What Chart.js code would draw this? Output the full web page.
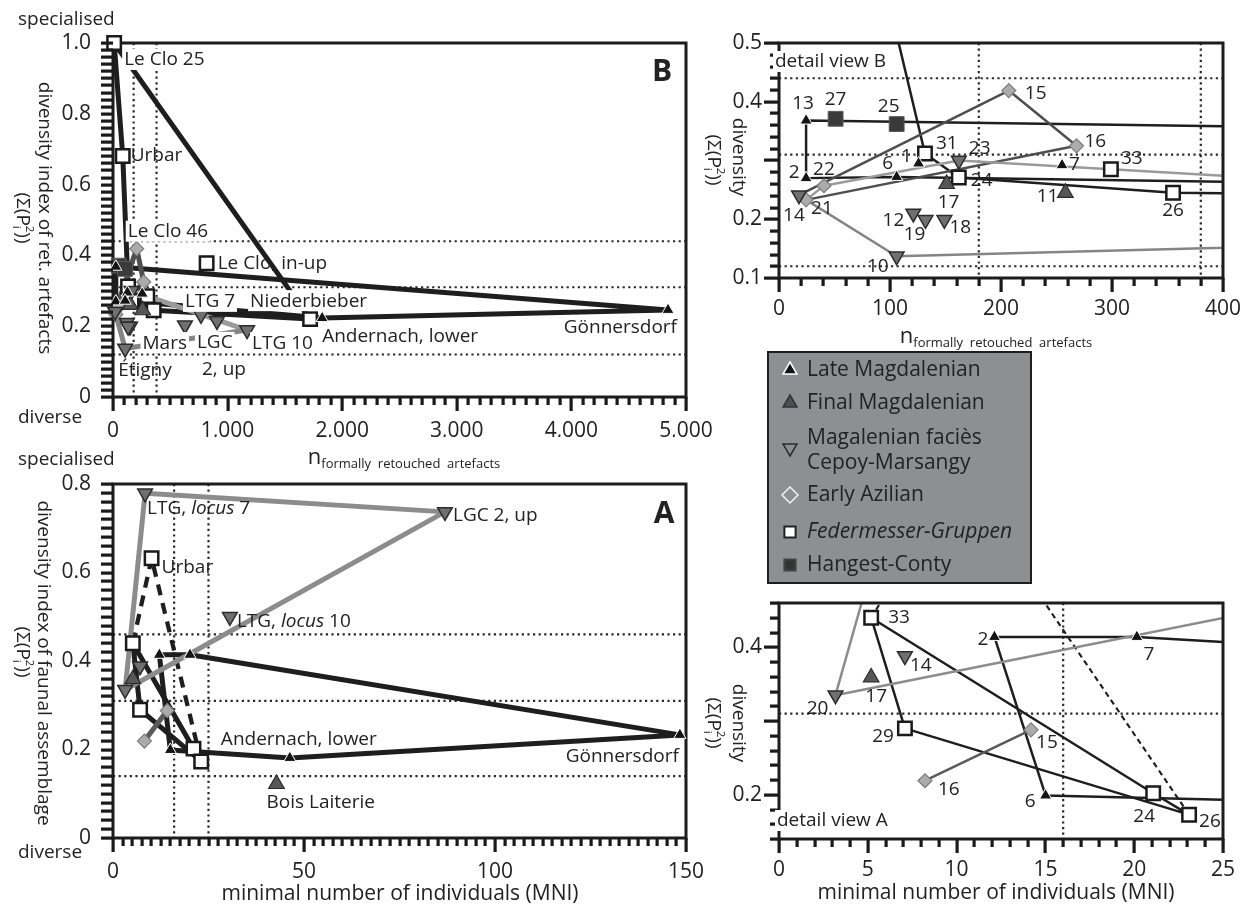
<!DOCTYPE html>
<html>
<head>
<meta charset="utf-8">
<script src="https://cdn.jsdelivr.net/npm/chart.js@4.4.1/dist/chart.umd.min.js"></script>
<style>
  html, body { margin: 0; padding: 0; background: #fff; }
  #wrap { position: relative; width: 1252px; height: 906px; }
  #wrap canvas { position: absolute; left: 0; top: 0; }
</style>
</head>
<body>
<div id="wrap">
  <canvas id="cB" width="1252" height="906"></canvas>
  <canvas id="cBd" width="1252" height="906"></canvas>
  <canvas id="cA" width="1252" height="906"></canvas>
  <canvas id="cAd" width="1252" height="906"></canvas>
</div>
<script>
// ---------- B: n formally retouched artefacts vs. diversity ----------
// late: 1, 2, 6, 7, 13, Andernach lower, Gönnersdorf
const bLate    = [[125.7,0.295],[24.4,0.27],[106,0.272],[255,0.292],[24.4,0.368],[1825,0.223],[4843,0.246]];
// final: 17, 11
const bFinal   = [[151,0.26],[258,0.245]];
// cepoy: 10 (Étigny), 12, 14, 18, 19, 23, LTG 7, LGC 2 up, Mars, LTG 10
const bCepoy   = [[106,0.137],[121,0.21],[18,0.241],[149,0.199],[132,0.199],[162,0.30],[768,0.232],[907,0.215],[628,0.203],[1170,0.189]];
// early azilian: 15 (Le Clo 46), 16, 21, 22
const bAzilian = [[207,0.419],[268,0.325],[24.4,0.233],[40.5,0.257]];
// federmesser: Le Clo 25, Urbar, Le Clo in-up, Niederbieber, 31, 24, 26, 33
const bFeder   = [[10,1.0],[85,0.681],[817,0.378],[1720,0.22],[131.5,0.312],[162,0.271],[355,0.245],[299,0.285]];
// hangest-conty: 27, 25
const bHangest = [[51,0.371],[106,0.362]];

const bLinkLate  = [bLate[1], bLate[4], bLate[6], bLate[5], bLate[2], bLate[1]];
const bLinkFeder = [bFeder[0], bFeder[1], bFeder[4], bFeder[5], bFeder[6], bFeder[3], bFeder[0]];
const bLinkAzil  = [bCepoy[2], bAzilian[0], bAzilian[1], bAzilian[2]];
const bLinkLight = [bAzilian[2], bAzilian[3], bCepoy[5], bFeder[7], bCepoy[9]];
const bLinkCepoy = [bAzilian[2], bCepoy[0], bCepoy[9]];

// ---------- A: MNI vs. diversity of faunal assemblage ----------
// late: 2, 7, 6, Andernach lower, Gönnersdorf
const aLate    = [[12.13,0.414],[20.15,0.414],[15.01,0.199],[46.3,0.181],[148.4,0.233]];
// final: 17, Bois Laiterie
const aFinal   = [[5.19,0.359],[42.8,0.122]];
// cepoy: 14, 20, LTG locus 7, LTG locus 10, LGC 2 up
const aCepoy   = [[7.09,0.388],[3.18,0.335],[8.4,0.779],[30.6,0.50],[86.9,0.737]];
// early azilian: 15, 16
const aAzilian = [[14.19,0.288],[8.22,0.219]];
// federmesser: 33, 29, 24, 26, Urbar
const aFeder   = [[5.19,0.44],[7.09,0.29],[21.07,0.202],[23.09,0.173],[10.1,0.632]];

const aLinkLate  = [aLate[0], aLate[1], aLate[4], aLate[3], aLate[2], aLate[0]];
const aLinkFeder = [aFeder[0], aFeder[2], aFeder[3], aFeder[1], aFeder[0]];
const aLinkUrbar = [aFeder[0], aFeder[4], aFeder[3]];
const aLinkCepoy = [aCepoy[2], aCepoy[1], aCepoy[4], aCepoy[2]];
const aLinkAzil  = [aAzilian[1], aAzilian[0]];

// dotted reference values
const bRefY = [0.44, 0.31, 0.12], bRefX = [180, 380];
const aRefY = [0.46, 0.31, 0.14], aRefX = [16, 25];

// site names: [point, text, dx, dy, align, white background]
const bNames = [
  [bFeder[0], 'Le Clo 25', 10, 17, 'left', 1],
  [bFeder[1], 'Urbar', 8, 0, 'left', 0],
  [bAzilian[0], 'Le Clo 46', -9, -17, 'left', 1],
  [bFeder[2], 'Le Clo, in-up', 11, 0, 'left', 0],
  [bCepoy[6], 'LTG 7', -16, -13, 'left', 1],
  [bFeder[3], 'Niederbieber', -60, -18, 'left', 1],
  [bLate[5], 'Andernach, lower', 0, 19, 'left', 0],
  [bLate[6], 'Gönnersdorf', 9, 18, 'right', 0],
  [bCepoy[8], 'Mars', 2, 18, 'right', 1],
  [bCepoy[7], 'LGC', -20, 22, 'left', 1],
  [bCepoy[7], '2, up', -15, 49, 'left', 0],
  [bCepoy[9], 'LTG 10', 5, 13, 'left', 1],
  [bCepoy[0], 'Étigny', -7, 22, 'left', 0]
];
const bNums = [
  [bLate[4], '13', -3, -17, 'center'], [bHangest[0], '27', 0, -19, 'center'],
  [bHangest[1], '25', -8, -17, 'center'], [bAzilian[0], '15', 16, 3, 'left'],
  [bAzilian[1], '16', 8, -4, 'left'], [bFeder[4], '31', 11, -10, 'left'],
  [bCepoy[5], '23', 10, -12, 'left'], [bLate[2], '6', -9, -13, 'center'],
  [bLate[0], '1', -12, -7, 'center'], [bLate[3], '7', 7, -1, 'left'],
  [bFeder[7], '33', 10, -11, 'left'], [bLate[1], '2', -12, -6, 'center'],
  [bAzilian[3], '22', 0, -16, 'center'], [bFeder[5], '24', 12, 3, 'left'],
  [bFinal[0], '17', 2, 19, 'center'], [bFinal[1], '11', -7, 4, 'right'],
  [bFeder[6], '26', 0, 18, 'center'], [bCepoy[2], '14', -5, 20, 'center'],
  [bAzilian[2], '21', 5, 9, 'left'], [bCepoy[1], '12', -9, 7, 'right'],
  [bCepoy[4], '19', -11, 15, 'center'], [bCepoy[3], '18', 5, 8, 'left'],
  [bCepoy[0], '10', -8, 10, 'right']
];
const aNames = [
  [aCepoy[2], 'LTG, *locus* 7', 2, 15, 'left', 0],
  [aFeder[4], 'Urbar', 10, 9, 'left', 0],
  [aCepoy[3], 'LTG, *locus* 10', 7, 5, 'left', 0],
  [aCepoy[4], 'LGC 2, up', 8, 4, 'left', 0],
  [aLate[3], 'Andernach, lower', -69, -18, 'left', 0],
  [aLate[4], 'Gönnersdorf', -1, 22, 'right', 0],
  [aFinal[1], 'Bois Laiterie', -10, 19, 'left', 0]
];
const aNums = [
  [aFeder[0], '33', 17, 0, 'left'], [aLate[0], '2', -6, 3, 'right'],
  [aLate[1], '7', 12, 18, 'center'], [aCepoy[0], '14', 5, 9, 'left'],
  [aFinal[0], '17', 5, 19, 'center'], [aCepoy[1], '20', -7, 13, 'right'],
  [aFeder[1], '29', -11, 8, 'right'], [aAzilian[0], '15', 5, 13, 'left'],
  [aAzilian[1], '16', 13, 9, 'left'], [aLate[2], '6', -10, 6, 'right'],
  [aFeder[2], '24', -9, 23, 'center'], [aFeder[3], '26', 10, 7, 'left']
];

const legendItems = ['Late Magdalenian', 'Final Magdalenian', 'Magalenian faciès|Cepoy-Marsangy', 'Early Azilian', '*Federmesser-Gruppen*', 'Hangest-Conty'];

// ---------- styling ----------
const FAM = '"Open Sans", "DejaVu Sans", sans-serif';
Chart.defaults.font.family = FAM;
const INK = '#222';
const TICK = '#1a1a1a';
const fontOf = (s, it, bold) => (it ? 'italic ' : '') + (bold ? 'bold ' : '') + s + 'px ' + FAM;

const MARK = {
  late:  {style: 'triangle', rot: 0,   bg: '#141414', bd: '#ffffff', bw: 1,   r: 7},
  final: {style: 'triangle', rot: 0,   bg: '#575757', bd: '#2b2b2b', bw: 1.2, r: 9},
  cepoy: {style: 'triangle', rot: 180, bg: '#707070', bd: '#2b2b2b', bw: 1.5, r: 8.5},
  azil:  {style: 'rectRot',  rot: 0,   bg: '#ababab', bd: '#7c7c7c', bw: 1.2, r: 7},
  feder: {style: 'rect',     rot: 0,   bg: '#ffffff', bd: '#1a1a1a', bw: 2.5, r: 9.5},
  hang:  {style: 'rect',     rot: 0,   bg: '#3a3a3a', bd: '#5a5a5a', bw: 1,   r: 10.5}
};

function marks(pts, m, clip) {
  return {
    kind: 'mark', order: 1, showLine: false, clip: clip,
    data: pts.map(p => ({x: p[0], y: p[1]})),
    pointStyle: m.style, pointRotation: m.rot,
    pointBackgroundColor: m.bg, pointBorderColor: m.bd, pointBorderWidth: m.bw,
    pointRadius: m.r, pointHoverRadius: m.r
  };
}
function link(pts, color, w, dash) {
  return {
    kind: 'line', order: 2, showLine: true,
    data: pts.map(p => ({x: p[0], y: p[1]})),
    borderColor: color, borderWidth: w, borderDash: dash || [],
    borderCapStyle: dash ? 'butt' : 'round', borderJoinStyle: 'round',
    pointRadius: 0, pointHoverRadius: 0, tension: 0
  };
}

const isOn = (v, step) => Math.abs(v / step - Math.round(v / step)) < 1e-6;

function axis(o) {
  return {
    type: 'linear', min: o.min, max: o.max,
    afterFit: s => { if (s.isHorizontal()) s.height = 40; else s.width = 60; },
    border: {display: false},
    grid: {display: false, drawTicks: true, tickLength: o.tick},
    ticks: {
      stepSize: o.major, autoSkip: false, maxRotation: 0, minRotation: 0, padding: o.pad,
      color: INK, font: {family: FAM, size: 21},
      callback: v => (isOn(v, o.major) && !(o.skip || []).some(s => Math.abs(s - v) < 1e-6)) ? o.fmt(v) : ''
    }
  };
}

function drawParts(ctx, parts, x, y, align, bg) {
  let w = 0;
  const ws = parts.map(p => {
    ctx.font = fontOf(p.size, p.it, p.bold);
    const m = ctx.measureText(p.t).width;
    if (!p.stay) w += m;
    return m;
  });
  let cx = align === 'right' ? x - w : align === 'center' ? x - w / 2 : x;
  if (bg) { ctx.fillStyle = '#fff'; ctx.fillRect(cx - 2, y - 11, w + 4, 21); }
  ctx.fillStyle = INK; ctx.textAlign = 'left'; ctx.textBaseline = 'middle';
  parts.forEach((p, i) => {
    ctx.font = fontOf(p.size, p.it, p.bold);
    ctx.fillText(p.t, cx, y + (p.dy || 0));
    if (!p.stay) cx += ws[i];
  });
}
const rich = (text, size) => text.split('*').map((t, i) => ({t, size, it: i % 2 === 1})).filter(p => p.t);
const sigma = s => [{t: '(Σ(P', size: s}, {t: 'i', size: s * 0.6, dy: s * 0.32, stay: true}, {t: '2', size: s * 0.6, dy: -s * 0.36}, {t: '))', size: s}];
const nRet = [{t: 'n', size: 22}, {t: 'formally  retouched  artefacts', size: 13, dy: 6}];

function rotated(ctx, parts, x, y) {
  ctx.save(); ctx.translate(x, y); ctx.rotate(Math.PI / 2);
  drawParts(ctx, parts, 0, 0, 'center');
  ctx.restore();
}

function drawMark(ctx, kind, x, y, r) {
  const m = {
    late: ['tri', '#141414', '#fff'], final: ['tri', '#4f4f4f', '#333'],
    cepoy: ['itri', null, '#2b2b2b'], azil: ['dia', null, '#f2f2f2'],
    feder: ['sq', '#fff', '#222'], hang: ['sq', '#333', '#444']
  }[kind];
  ctx.beginPath();
  if (m[0] === 'tri') { ctx.moveTo(x, y - r); ctx.lineTo(x + r * 0.87, y + r * 0.5); ctx.lineTo(x - r * 0.87, y + r * 0.5); }
  else if (m[0] === 'itri') { ctx.moveTo(x, y + r); ctx.lineTo(x + r * 0.87, y - r * 0.5); ctx.lineTo(x - r * 0.87, y - r * 0.5); }
  else if (m[0] === 'dia') { ctx.moveTo(x, y - r); ctx.lineTo(x + r, y); ctx.lineTo(x, y + r); ctx.lineTo(x - r, y); }
  else { ctx.rect(x - r * 0.7, y - r * 0.7, r * 1.4, r * 1.4); }
  ctx.closePath();
  if (m[1]) { ctx.fillStyle = m[1]; ctx.fill(); }
  ctx.lineWidth = m[0] === 'sq' ? 2 : 1.5; ctx.strokeStyle = m[2]; ctx.stroke();
}

// tick marks along an axis, every minor step, longer on majors (filled bars)
function tickMarks(ctx, scale, o, a) {
  ctx.fillStyle = TICK;
  const n = Math.round((o.max - o.min) / o.step);
  for (let i = 0; i <= n; i++) {
    const v = o.min + i * o.step;
    const len = isOn(v, o.major) ? o.majorLen : o.tick;
    const p = Math.round(scale.getPixelForValue(v));
    if (scale.isHorizontal()) ctx.fillRect(p - 1.5, a.bottom, 3.2, len);
    else ctx.fillRect(a.left - len, p - 1.5, len, 3.2);
  }
}

function makeDeco(cfg) {
  let framed = false;
  return {
    id: 'deco',
    beforeDraw() { framed = false; },
    beforeDatasetsDraw(chart) {
      const {ctx, chartArea: a, scales: {x, y}} = chart;
      ctx.save();
      ctx.strokeStyle = '#2a2a2a'; ctx.lineWidth = 2.2; ctx.setLineDash([2.2, 3.4]);
      cfg.refY.forEach(v => {
        const py = y.getPixelForValue(v);
        if (py < a.top + 1 || py > a.bottom - 1) return;
        ctx.beginPath(); ctx.moveTo(a.left, py); ctx.lineTo(a.right, py); ctx.stroke();
      });
      cfg.refX.forEach(v => {
        const px = x.getPixelForValue(v);
        if (px < a.left + 1 || px > a.right - 1) return;
        ctx.beginPath(); ctx.moveTo(px, a.top); ctx.lineTo(px, a.bottom); ctx.stroke();
      });
      ctx.restore();
    },
    beforeDatasetDraw(chart, args) {
      if (framed || chart.data.datasets[args.index].kind !== 'mark') return;
      framed = true;
      const {ctx, chartArea: a} = chart;
      ctx.save();
      ctx.strokeStyle = '#1c1c1c'; ctx.lineWidth = 3;
      ctx.strokeRect(a.left, a.top, a.right - a.left, a.bottom - a.top);
      ctx.restore();
    },
    afterDraw(chart) {
      const {ctx, chartArea: a, scales: {x, y}} = chart;
      ctx.save();
      tickMarks(ctx, x, cfg.xo, a);
      tickMarks(ctx, y, cfg.yo, a);
      cfg.names.forEach(n => {
        const px = x.getPixelForValue(n[0][0]), py = y.getPixelForValue(n[0][1]);
        drawParts(ctx, rich(n[1], 19), px + n[2], py + n[3], n[4], n[5]);
      });
      cfg.texts(ctx);
      ctx.restore();
    }
  };
}

function build(id, pad, xo, yo, datasets, cfg) {
  cfg.xo = xo; cfg.yo = yo;
  return new Chart(document.getElementById(id), {
    type: 'scatter',
    data: {datasets},
    options: {
      responsive: false, animation: false, events: [],
      layout: {padding: pad},
      plugins: {legend: {display: false}, tooltip: {enabled: false}},
      scales: {x: axis(xo), y: axis(yo)}
    },
    plugins: [makeDeco(cfg)]
  });
}

function bSets(w, clip) {
  return [
    marks(bLate, MARK.late, clip), marks(bFinal, MARK.final, clip), marks(bCepoy, MARK.cepoy, clip),
    marks(bAzilian, MARK.azil, clip), marks(bHangest, MARK.hang, clip), marks(bFeder, MARK.feder, clip),
    link(bLinkCepoy, '#858585', w), link(bLinkLight, '#9a9a9a', w), link(bLinkAzil, '#4e4e4e', w),
    link(bLinkFeder, '#1e1e1e', w), link(bLinkLate, '#1e1e1e', w)
  ];
}
function aSets(w, clip) {
  return [
    marks(aLate, MARK.late, clip), marks(aFinal, MARK.final, clip), marks(aCepoy, MARK.cepoy, clip),
    marks(aAzilian, MARK.azil, clip), marks(aFeder, MARK.feder, clip),
    link(aLinkCepoy, '#8c8c8c', w), link(aLinkAzil, '#5a5a5a', w),
    link(aLinkUrbar, '#1e1e1e', w * 0.85, [w * 2.2, w * 1.6]),
    link(aLinkFeder, '#1e1e1e', w), link(aLinkLate, '#1e1e1e', w)
  ];
}

const fmt1 = v => (Math.abs(v) < 1e-9 ? '0' : v.toFixed(1));
const fmtInt = v => String(Math.round(v)).replace(/\B(?=(\d{3})+(?!\d))/g, ',');

// ---- panel B ----
build('cB', {left: 53, right: 566, top: 43, bottom: 469},
  {min: 0, max: 5000, step: 100, major: 1000, tick: 8, majorLen: 14, pad: 13, fmt: fmtInt},
  {min: 0, max: 1, step: 0.02, major: 0.2, tick: 12, majorLen: 12, pad: 10, fmt: fmt1},
  bSets(5, false),
  {refX: bRefX, refY: bRefY, names: bNames,
   texts: ctx => {
     drawParts(ctx, rich('specialised', 19), 18, 20, 'left');
     drawParts(ctx, rich('diverse', 19), 18, 418, 'left');
     rotated(ctx, rich('divensity index of ret. artefacts', 19), 44, 218);
     rotated(ctx, sigma(19), 22, 218);
     drawParts(ctx, nRet, 404, 458, 'center');
     drawParts(ctx, [{t: 'B', size: 30, bold: true}], 662, 72, 'center');
   }});

// ---- detail view B ----
build('cBd', {left: 719, right: 29, top: 43, bottom: 588},
  {min: 0, max: 400, step: 20, major: 100, tick: 8, majorLen: 14, pad: 10, fmt: fmtInt},
  {min: 0.1, max: 0.5, step: 0.02, major: 0.1, tick: 9, majorLen: 15, pad: 8, fmt: fmt1, skip: [0.3]},
  bSets(2.5, undefined),
  {refX: bRefX, refY: bRefY,
   names: bNums.map(n => n.concat([0])),
   texts: ctx => {
     drawParts(ctx, rich('detail view B', 19), 775, 62, 'left', true);
     rotated(ctx, rich('divensity', 19), 738, 157);
     rotated(ctx, sigma(19), 713, 160);
     drawParts(ctx, nRet, 996, 337, 'center');
     // legend box
     ctx.fillStyle = '#8e8f93'; ctx.fillRect(768, 352, 263, 231);
     ctx.strokeStyle = '#1e1e1e'; ctx.lineWidth = 2; ctx.strokeRect(768, 352, 263, 231);
     const kinds = ['late', 'final', 'cepoy', 'azil', 'feder', 'hang'];
     const rows = [370, 403, 438, 495, 532, 565];
     legendItems.forEach((txt, i) => {
       const lines = txt.split('|');
       drawMark(ctx, kinds[i], 790, rows[i] + (lines.length > 1 ? 10 : 0), 8);
       lines.forEach((l, j) => drawParts(ctx, rich(l, 21), 807, rows[i] + j * 25, 'left'));
     });
   }});

// ---- panel A ----
build('cA', {left: 53, right: 566, top: 484, bottom: 28},
  {min: 0, max: 150, step: 2.5, major: 50, tick: 8, majorLen: 14, pad: 13, fmt: fmtInt},
  {min: 0, max: 0.8, step: 0.02, major: 0.2, tick: 12, majorLen: 12, pad: 10, fmt: fmt1},
  aSets(5, false),
  {refX: aRefX, refY: aRefY, names: aNames,
   texts: ctx => {
     drawParts(ctx, rich('specialised', 19), 18, 460, 'left');
     drawParts(ctx, rich('diverse', 19), 18, 853, 'left');
     rotated(ctx, rich('divensity index of faunal assemblage', 19), 43, 663);
     rotated(ctx, sigma(19), 22, 652);
     drawParts(ctx, rich('minimal number of individuals (MNI)', 21), 400, 894, 'center');
     drawParts(ctx, [{t: 'A', size: 30, bold: true}], 664, 514, 'center');
   }});

// ---- detail view A ----
build('cAd', {left: 719, right: 29, top: 603, bottom: 27},
  {min: 0, max: 25, step: 1, major: 5, tick: 8, majorLen: 14, pad: 10, fmt: fmtInt},
  {min: 0.14, max: 0.46, step: 0.02, major: 0.1, tick: 9, majorLen: 15, pad: 8, fmt: fmt1, skip: [0.3]},
  aSets(2.5, undefined),
  {refX: aRefX, refY: aRefY,
   names: aNums.map(n => n.concat([0])),
   texts: ctx => {
     drawParts(ctx, rich('detail view A', 19), 777, 821, 'left', true);
     rotated(ctx, rich('divensity', 19), 738, 723);
     rotated(ctx, sigma(19), 713, 723);
     drawParts(ctx, rich('minimal number of individuals (MNI)', 21), 996, 893, 'center');
   }});
</script>
</body>
</html>
